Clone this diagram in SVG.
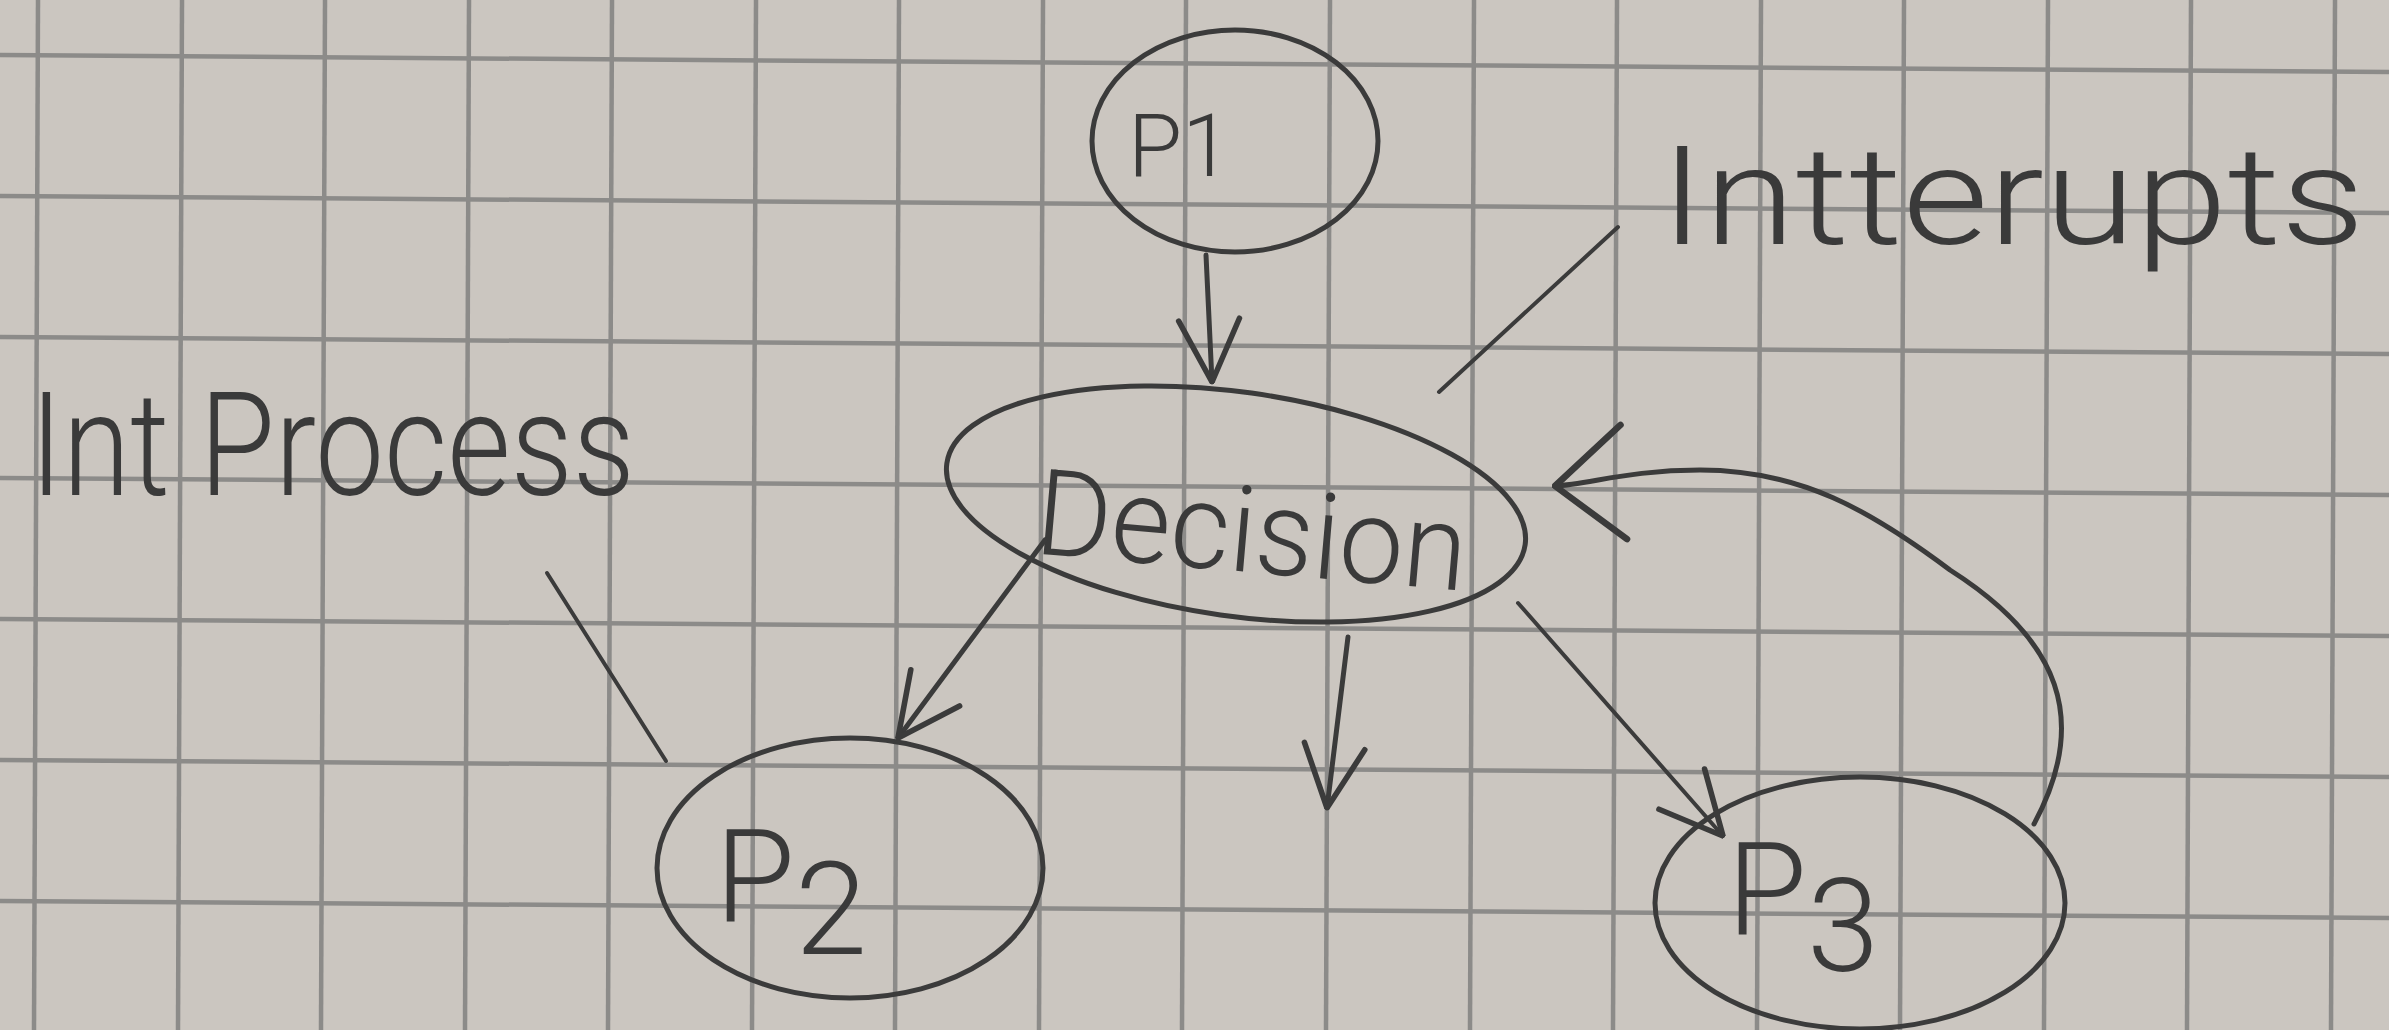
<svg xmlns="http://www.w3.org/2000/svg" width="2389" height="1030" viewBox="0 0 2389 1030">
<style>
.paper{fill:#cbc6c0}
.grid line{stroke:#8c8b89;stroke-width:4.5}
.ink{fill:none;stroke:#3b3b3b;stroke-width:5;stroke-linecap:round;stroke-linejoin:round}
.thin{fill:none;stroke:#3b3b3b;stroke-width:4;stroke-linecap:round}
.hand{font-family:Roboto,"Liberation Sans","DejaVu Sans",sans-serif;font-weight:300;fill:#3a3a3a}
</style>
<defs>
<marker id="vhead" viewBox="0 0 100 100" refX="98" refY="50" markerWidth="80" markerHeight="80" markerUnits="userSpaceOnUse" orient="auto">
<path d="M20,12 L98,50 L20,88" fill="none" stroke="#3b3b3b" stroke-width="7" stroke-linecap="round" stroke-linejoin="round"/>
</marker>
<marker id="vheadL" viewBox="0 0 100 100" refX="98" refY="50" markerWidth="130" markerHeight="130" markerUnits="userSpaceOnUse" orient="auto">
<path d="M45,6 L98,50 L45,94" fill="none" stroke="#3b3b3b" stroke-width="5" stroke-linecap="round" stroke-linejoin="round"/>
</marker>
</defs>
<rect class="paper" x="0" y="0" width="2389" height="1030"/>
<g class="grid">
<line x1="38" y1="0" x2="34" y2="1030"/>
<line x1="182" y1="0" x2="178" y2="1030"/>
<line x1="325" y1="0" x2="321" y2="1030"/>
<line x1="469" y1="0" x2="465" y2="1030"/>
<line x1="612" y1="0" x2="608" y2="1030"/>
<line x1="756" y1="0" x2="752" y2="1030"/>
<line x1="899" y1="0" x2="895" y2="1030"/>
<line x1="1043" y1="0" x2="1039" y2="1030"/>
<line x1="1186" y1="0" x2="1182" y2="1030"/>
<line x1="1330" y1="0" x2="1326" y2="1030"/>
<line x1="1474" y1="0" x2="1470" y2="1030"/>
<line x1="1617" y1="0" x2="1613" y2="1030"/>
<line x1="1761" y1="0" x2="1757" y2="1030"/>
<line x1="1904" y1="0" x2="1900" y2="1030"/>
<line x1="2048" y1="0" x2="2044" y2="1030"/>
<line x1="2191" y1="0" x2="2187" y2="1030"/>
<line x1="2335" y1="0" x2="2331" y2="1030"/>
<line x1="0" y1="55" x2="2389" y2="72"/>
<line x1="0" y1="196" x2="2389" y2="213"/>
<line x1="0" y1="337" x2="2389" y2="354"/>
<line x1="0" y1="478" x2="2389" y2="495"/>
<line x1="0" y1="619" x2="2389" y2="636"/>
<line x1="0" y1="760" x2="2389" y2="777"/>
<line x1="0" y1="901" x2="2389" y2="918"/>
</g>
<g id="node-p1">
<ellipse class="ink" cx="1235" cy="141" rx="143" ry="111"/>
<text class="hand" x="1128" y="176" font-size="88">P1</text>
</g>
<g id="node-decision">
<ellipse class="ink" cx="1236" cy="504" rx="292" ry="112" transform="rotate(8 1236 504)"/>
<text class="hand" x="1036" y="572" font-size="120" textLength="432" lengthAdjust="spacingAndGlyphs" transform="rotate(5 1250 530)">Decision</text>
</g>
<g id="node-p2">
<ellipse class="ink" cx="850" cy="868" rx="193" ry="130"/>
<text class="hand" x="715" y="922" font-size="130">P<tspan dy="32">2</tspan></text>
</g>
<g id="node-p3">
<ellipse class="ink" cx="1860" cy="903" rx="205" ry="126"/>
<text class="hand" x="1727" y="935" font-size="130">P<tspan dy="36">3</tspan></text>
</g>
<g id="label-interrupts">
<text class="hand" x="1660" y="244" font-size="138" textLength="705" lengthAdjust="spacingAndGlyphs">Intterupts</text>
</g>
<g id="label-intprocess">
<text class="hand" x="30" y="495" font-size="145" textLength="605" lengthAdjust="spacingAndGlyphs">Int Process</text>
</g>
<g id="connectors">
<line class="ink" x1="1206" y1="255" x2="1212" y2="382" marker-end="url(#vhead)"/>
<line class="ink" x1="1045" y1="540" x2="898" y2="738" marker-end="url(#vhead)"/>
<line class="ink" x1="1348" y1="637" x2="1327" y2="808" marker-end="url(#vhead)"/>
<line class="thin" x1="1518" y1="603" x2="1723" y2="836" marker-end="url(#vhead)"/>
<path class="ink" d="M2034,824 C2090,720 2060,640 1950,570 C1870,510 1800,470 1700,470 C1630,470 1590,484 1555,486" marker-end="url(#vheadL)"/>
<line class="thin" x1="1439" y1="392" x2="1618" y2="227"/>
<line class="thin" x1="547" y1="573" x2="666" y2="761"/>
</g>
</svg>
